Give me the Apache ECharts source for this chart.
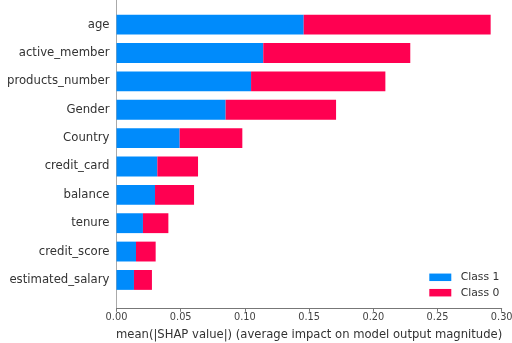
<!DOCTYPE html>
<html>
<head>
<meta charset="utf-8">
<script src="https://cdn.jsdelivr.net/npm/echarts@6/dist/echarts.min.js"></script>
<style>html,body{margin:0;padding:0;background:#fff}#c{width:512px;height:343px}</style>
</head>
<body>
<div id="c"></div>
<script>
var features = ["age","active_member","products_number","Gender","Country","credit_card","balance","tenure","credit_score","estimated_salary"];
var class1 = [0.1458,0.1143,0.1048,0.0850,0.0492,0.0318,0.0300,0.0206,0.0152,0.0136];
var class0 = [0.1456,0.1145,0.1046,0.0860,0.0488,0.0317,0.0304,0.0198,0.0153,0.0140];
var xTicks = [0,0.05,0.10,0.15,0.20,0.25,0.30];

var n = features.length;
var d1 = [], d0 = [];
for (var i = 0; i < n; i++) {
  var y = n - 1 - i;
  d1.push([0, class1[i], y]);
  d0.push([class1[i], class1[i] + class0[i], y]);
}
function renderBar(params, api) {
  var s = api.coord([api.value(0), api.value(2)]);
  var e = api.coord([api.value(1), api.value(2)]);
  var h = api.size([0, 0.7])[1];
  return {type:'rect', shape:{x:s[0], y:s[1]-h/2, width:e[0]-s[0], height:h}, style:{fill: api.visual('color')}};
}
var font = 'DejaVu Sans';
var chart = echarts.init(document.getElementById('c'), null, {renderer:'canvas'});
chart.setOption({
  animation: false,
  textStyle: {fontFamily: font},
  grid: {left: 116.5, right: 10.3, top: 0, bottom: 34.7, containLabel: false, outerBoundsMode: 'none'},
  xAxis: {
    type: 'value', min: xTicks[0], max: xTicks[xTicks.length-1], interval: 0.05,
    axisLine: {show: true, onZero: false, lineStyle: {color: '#777', width: 1}},
    axisTick: {show: true, length: 3.5, lineStyle: {color: '#777'}},
    splitLine: {show: false},
    axisLabel: {color: '#444', fontSize: 9.8, fontFamily: font, margin: 4,
      formatter: function(v){ return v.toFixed(2); }},
    name: 'mean(|SHAP value|) (average impact on model output magnitude)',
    nameLocation: 'middle', nameGap: 21,
    nameTextStyle: {color: '#333', fontSize: 11.6, fontFamily: font}
  },
  yAxis: {
    type: 'value', min: -1, max: 9.867, interval: 1,
    axisLine: {show: true, onZero: false, lineStyle: {color: '#aaa', width: 1}},
    axisTick: {show: false},
    splitLine: {show: false},
    axisLabel: {color: '#333', fontSize: 11.7, fontFamily: font, margin: 7,
      formatter: function(v){ var k = n - 1 - v; return (v >= 0 && v < n && Math.round(v) === v) ? features[k] : ''; }}
  },
  legend: {
    orient: 'vertical', left: 429.3, top: 271.8, icon: 'rect', padding: 0,
    itemWidth: 22, itemHeight: 7.5, itemGap: 4.4,
    formatter: function(name){ return '{p|}' + name; },
    textStyle: {color: '#333', fontSize: 10.8, fontFamily: font, lineHeight: 11,
      rich: {p: {width: 4.4}}},
    data: ['Class 1', 'Class 0']
  },
  series: [
    {name: 'Class 1', type: 'custom', renderItem: renderBar, encode: {x: [0,1], y: 2}, data: d1, itemStyle: {color: '#008bfb'}},
    {name: 'Class 0', type: 'custom', renderItem: renderBar, encode: {x: [0,1], y: 2}, data: d0, itemStyle: {color: '#ff0051'}}
  ]
});
</script>
</body>
</html>
